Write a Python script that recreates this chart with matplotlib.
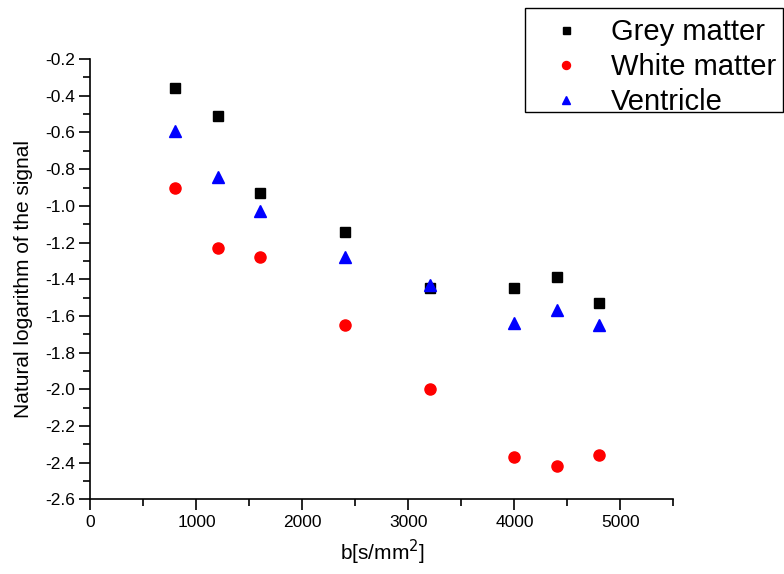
import matplotlib.pyplot as plt
from matplotlib.patches import Rectangle
from matplotlib.ticker import MultipleLocator

plt.rcParams['font.family'] = ['Liberation Sans', 'DejaVu Sans']

# b-values and natural logarithm of the signal
b_values = [800, 1200, 1600, 2400, 3200, 4000, 4400, 4800]
grey_matter = [-0.36, -0.51, -0.93, -1.14, -1.45, -1.45, -1.39, -1.53]
white_matter = [-0.90, -1.23, -1.28, -1.65, -2.00, -2.37, -2.42, -2.36]
ventricle = [-0.59, -0.84, -1.03, -1.28, -1.43, -1.64, -1.57, -1.65]

fig = plt.figure(figsize=(7.84, 5.74), dpi=100)
ax = fig.add_axes([0.1154, 0.130, 0.7436, 0.767])

ax.plot(b_values, grey_matter, 's', color='black', markersize=7, label='Grey matter')
ax.plot(b_values, white_matter, 'o', color='red', markersize=8, label='White matter')
ax.plot(b_values, ventricle, '^', color='blue', markersize=8.5, label='Ventricle')

ax.set_xlim(0, 5500)
ax.set_ylim(-2.6, -0.2)
ax.xaxis.set_major_locator(MultipleLocator(1000))
ax.xaxis.set_minor_locator(MultipleLocator(500))
ax.yaxis.set_major_locator(MultipleLocator(0.2))
ax.yaxis.set_minor_locator(MultipleLocator(0.1))
ax.yaxis.set_major_formatter(lambda v, p: f'{v:.1f}')

ax.spines['top'].set_visible(False)
ax.spines['right'].set_visible(False)
ax.spines['left'].set_linewidth(1.2)
ax.spines['bottom'].set_linewidth(1.2)
ax.tick_params(which='major', direction='out', length=8, width=1.2, labelsize=12.5, pad=3)
ax.tick_params(which='minor', direction='out', length=5, width=1.2)

ax.set_xlabel('b[s/mm$^2$]', fontsize=15, labelpad=6)
ax.set_ylabel('Natural logarithm of the signal', fontsize=15, labelpad=9)

# legend text without frame, box drawn separately
fig.legend(loc='upper left', bbox_to_anchor=(0.675, 0.968), fontsize=21,
           frameon=False, handletextpad=0.25, borderpad=0, labelspacing=0.23,
           handlelength=2.55, markerscale=0.72, borderaxespad=0)
fig.patches.append(Rectangle((525 / 784, 1 - 112 / 574), 258 / 784, 104 / 574,
                             transform=fig.transFigure, fill=False,
                             edgecolor='black', linewidth=1.0))

fig.savefig('out.png', dpi=100)
